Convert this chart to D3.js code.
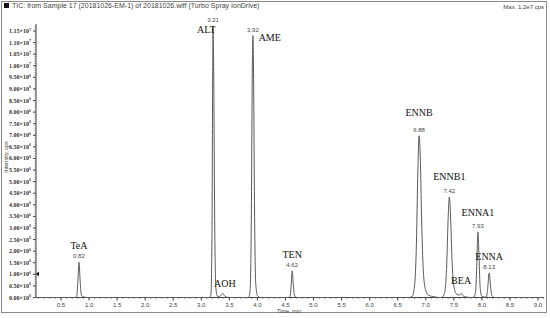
<!DOCTYPE html>
<html>
<head>
<meta charset="utf-8">
<script src="https://cdn.jsdelivr.net/npm/d3@7"></script>
<style>
  body { margin: 0; background: #fff; }
  svg { display: block; }
</style>
</head>
<body>
<svg id="chart"></svg>
<script>
// trace: time (min) and intensity (x1e6 cps)
const traceTimes = [0.05, 0.76, 0.78, 0.80, 0.82, 0.84, 0.86, 0.88, 0.92, 0.96,
  3.14, 3.17, 3.19, 3.205, 3.21, 3.22, 3.24, 3.26, 3.29, 3.33,
  3.35, 3.38, 3.41, 3.45, 3.5,
  3.84, 3.87, 3.89, 3.91, 3.92, 3.93, 3.95, 3.97, 4.0, 4.05,
  4.55, 4.58, 4.60, 4.62, 4.64, 4.66, 4.7,
  6.7, 6.76, 6.80, 6.83, 6.86, 6.88, 6.90, 6.93, 6.96, 7.0, 7.05, 7.15, 7.25,
  7.28, 7.33, 7.37, 7.40, 7.42, 7.44, 7.47, 7.50, 7.55,
  7.60, 7.63, 7.67, 7.72, 7.82,
  7.86, 7.89, 7.91, 7.93, 7.95, 7.97, 8.0, 8.05,
  8.08, 8.10, 8.13, 8.16, 8.18, 8.22, 9.1];
const traceCps = [0, 0, 0.05, 0.7, 1.52, 0.75, 0.15, 0.05, 0.02, 0,
  0, 0.1, 2.5, 10.5, 11.7, 10, 3, 0.4, 0.05, 0.05,
  0.1, 0.18, 0.08, 0.02, 0,
  0, 0.3, 3, 10, 11.3, 10, 3.5, 0.6, 0.08, 0,
  0, 0.05, 0.5, 1.15, 0.55, 0.1, 0,
  0, 0.05, 0.5, 2, 5.5, 6.98, 6.2, 3, 1, 0.3, 0.1, 0.03, 0,
  0, 0.15, 1.2, 3.5, 4.34, 3.6, 1.5, 0.5, 0.15,
  0.1, 0.18, 0.06, 0.02, 0,
  0.02, 0.3, 1.5, 2.83, 1.7, 0.4, 0.05, 0.02,
  0.02, 0.3, 1.06, 0.35, 0.08, 0, 0];

// peak annotations
const peakNames = ["TeA", "ALT", "AOH", "AME", "TEN", "ENNB", "ENNB1", "BEA", "ENNA1", "ENNA"];
const peakTimes = [0.82, 3.21, null, 3.92, 4.62, 6.88, 7.42, null, 7.93, 8.13];
const nameTimes = [0.82, 3.09, 3.42, 4.22, 4.62, 6.88, 7.42, 7.63, 7.93, 8.13];
const nameCps = [2.1, 11.4, 0.45, 11.07, 1.72, 7.85, 5.05, 0.6, 3.5, 1.6];
const peakApex = [1.52, 11.7, null, 11.3, 1.15, 6.98, 4.34, null, 2.83, 1.06];

const yTicks = d3.range(0, 11.51, 0.5);
const xTicks = d3.range(0.5, 9.01, 0.5);

const width = 550, height = 318;
const svg = d3.select("#chart").attr("width", width).attr("height", height);

const x = d3.scaleLinear().domain([0.5, 9.0]).range([61, 538]);
const y = d3.scaleLinear().domain([0, 11.5]).range([297.5, 31]);

// frame
svg.append("rect").attr("x", 1.5).attr("y", 1.5).attr("width", 545).attr("height", 311)
  .attr("fill", "none").attr("stroke", "#8a8a8a");
svg.append("rect").attr("x", 4).attr("y", 3).attr("width", 5).attr("height", 5).attr("fill", "#111");
svg.append("text").attr("x", 12).attr("y", 8)
  .style("font", "7px 'Liberation Sans', Arial, sans-serif").attr("fill", "#444")
  .text("TIC: from Sample 17 (20181026-EM-1) of 20181026.wiff (Turbo Spray IonDrive)");
svg.append("text").attr("x", 544).attr("y", 9).attr("text-anchor", "end")
  .style("font", "6px 'Liberation Sans', Arial, sans-serif").attr("fill", "#444")
  .text("Max. 1.2e7 cps");

// y axis
const yAxis = svg.append("g").attr("transform", "translate(36,0)");
yAxis.append("line").attr("y1", y(0)).attr("y2", 24).attr("stroke", "#444");
yAxis.selectAll("line.minor").data(d3.range(0, 11.76, 0.1)).join("line")
  .attr("class", "minor").attr("x1", 0).attr("x2", -1.5)
  .attr("y1", d => y(d)).attr("y2", d => y(d)).attr("stroke", "#555").attr("stroke-width", 0.6);
yAxis.selectAll("line.major").data(yTicks).join("line")
  .attr("class", "major").attr("x1", 0).attr("x2", -3)
  .attr("y1", d => y(d)).attr("y2", d => y(d)).attr("stroke", "#444");
const yl = yAxis.selectAll("text").data(yTicks).join("text")
  .attr("x", -5).attr("y", d => y(d) + 2).attr("text-anchor", "end")
  .style("font", "bold 6px 'Liberation Serif', 'Times New Roman', serif").attr("fill", "#333");
yl.append("tspan").text(d => d >= 10 ? (d / 10).toFixed(2) + "×10" : d.toFixed(2) + "×10");
yl.append("tspan").attr("dy", -2.5).style("font-size", "4px").text(d => d >= 10 ? "7" : "6");

svg.append("text").attr("transform", "translate(8,157) rotate(-90)").attr("text-anchor", "middle")
  .style("font", "5.5px 'Liberation Sans', Arial, sans-serif").attr("fill", "#444")
  .text("Intensity, cps");
svg.append("path").attr("d", "M36,274 l3,-2.5 l0,5 z").attr("fill", "#111");

// x axis
const xAxis = svg.append("g").attr("transform", `translate(0,${y(0)})`);
xAxis.append("line").attr("x1", 36).attr("x2", 544).attr("stroke", "#444");
xAxis.selectAll("line.minor").data(d3.range(0.1, 9.11, 0.1)).join("line")
  .attr("class", "minor").attr("x1", d => x(d)).attr("x2", d => x(d))
  .attr("y1", 0).attr("y2", 1.5).attr("stroke", "#555").attr("stroke-width", 0.6);
xAxis.selectAll("line.major").data(xTicks).join("line")
  .attr("class", "major").attr("x1", d => x(d)).attr("x2", d => x(d))
  .attr("y1", 0).attr("y2", 3).attr("stroke", "#444");
xAxis.selectAll("text").data(xTicks).join("text")
  .attr("x", d => x(d)).attr("y", 9).attr("text-anchor", "middle")
  .style("font", "6px 'Liberation Sans', Arial, sans-serif").attr("fill", "#444")
  .text(d => d.toFixed(1));
svg.append("text").attr("x", 277).attr("y", 313)
  .style("font", "5.5px 'Liberation Sans', Arial, sans-serif").attr("fill", "#444")
  .text("Time, min");

// trace
const pts = traceTimes.map((t, i) => [t, traceCps[i]]);
const line = d3.line().x(d => x(d[0])).y(d => y(d[1])).curve(d3.curveMonotoneX);
svg.append("path").datum(pts).attr("d", line)
  .attr("fill", "none").attr("stroke", "#5a5a5a").attr("stroke-width", 1);

// labels
peakNames.forEach((name, i) => {
  if (peakTimes[i] != null) {
    svg.append("text").attr("x", x(peakTimes[i])).attr("y", y(peakApex[i]) - 4)
      .attr("text-anchor", "middle")
      .style("font", "6px 'Liberation Sans', Arial, sans-serif").attr("fill", "#444")
      .text(peakTimes[i].toFixed(2));
  }
  svg.append("text").attr("x", x(nameTimes[i])).attr("y", y(nameCps[i]))
    .attr("text-anchor", "middle")
    .style("font", "10px 'Liberation Serif', 'Times New Roman', serif").attr("fill", "#111")
    .text(name);
});
</script>
</body>
</html>
